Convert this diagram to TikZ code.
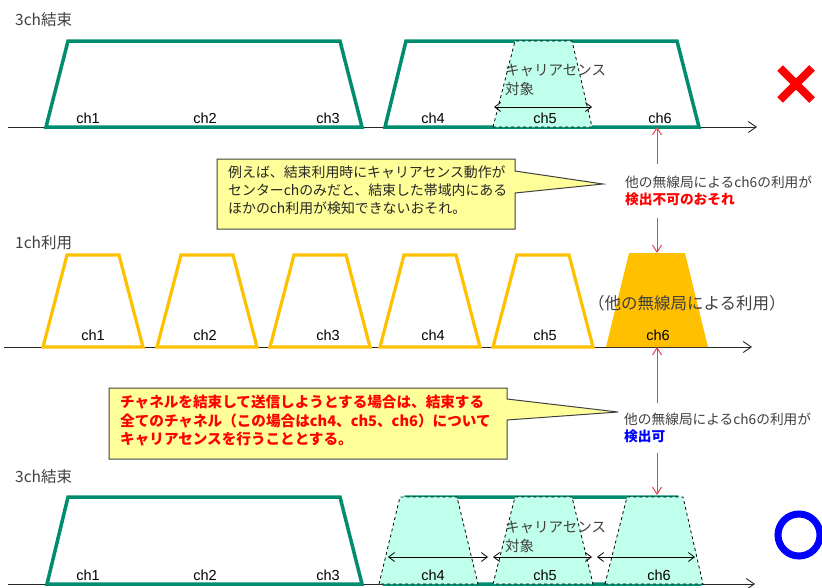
\documentclass[tikz,border=0pt]{standalone}
\usepackage{fontspec}
\setmainfont{Liberation Sans}
\newfontfamily\jp{Noto Sans CJK JP}
\usetikzlibrary{arrows.meta}
\definecolor{bgreen}{RGB}{0,140,110}
\definecolor{borange}{RGB}{255,192,0}
\definecolor{lcyan}{RGB}{192,255,235}
\definecolor{lyellow}{RGB}{255,255,153}
\definecolor{arred}{RGB}{225,70,80}
\definecolor{dgray}{RGB}{64,64,64}
\tikzset{
  axis/.style={draw=black!85, line width=0.9pt, -{Straight Barb[length=8pt,width=11pt]}},
  greentrap/.style={draw=bgreen, line width=3.5pt, line join=miter},
  orangetrap/.style={draw=borange, line width=3.2pt, line join=miter},
  cstrap/.style={draw=black, dashed, fill=lcyan, line width=0.8pt},
  spanarrow/.style={draw=black, line width=0.8pt, {Straight Barb[length=6pt,width=9pt]}-{Straight Barb[length=6pt,width=9pt]}},
  chlab/.style={font=\fontsize{14.5}{14.5}\selectfont, inner sep=0pt},
  grouptitle/.style={font=\jp\fontsize{15.5}{16}\selectfont, text=dgray, anchor=west, inner sep=0pt},
  calloutbox/.style={draw=dgray, fill=lyellow, line width=1pt, line join=miter},
  redarrow/.style={draw=arred, line width=1pt, {Straight Barb[length=7pt,width=9pt]}-{Straight Barb[length=7pt,width=9pt]}},
  notelab/.style={font=\jp\fontsize{13.7}{16.5}\selectfont, align=left, fill=white, anchor=west, inner xsep=1pt, inner ysep=12pt, text=dgray},
  cslab/.style={font=\jp\fontsize{14.5}{19}\selectfont, align=left, anchor=north west, inner sep=0pt, text=dgray},
  xmark/.style={draw=red, line width=8pt},
  omark/.style={draw=blue, line width=7pt}
}
\begin{document}
\begin{tikzpicture}[x=1pt,y=-1pt]
\useasboundingbox (0,0) rectangle (822,587);
% ================= top: 3ch bonding =================
\node[grouptitle] (t1) at (15,20) {3ch結束};
\coordinate (a1s) at (8,127);
\coordinate (a1e) at (757,127);
\draw[axis] (a1s) -- (a1e);
\draw[greentrap] (46,127) -- (68,41) -- (340,41) -- (362,127) -- cycle;
\draw[greentrap] (385,127) -- (406,41) -- (677,41) -- (699,127) -- cycle;
\draw[cstrap] (493,127) -- (515,41) -- (572,41) -- (592,127) -- cycle;
\coordinate (s1a) at (494,107);
\coordinate (s1b) at (592,107);
\draw[spanarrow] (s1a) -- (s1b);
\node[cslab] (cs1) at (505,64) {キャリアセンス\\対象};
\node[chlab] (c11) at (88,118) {ch1};
\node[chlab] (c12) at (205,118) {ch2};
\node[chlab] (c13) at (328,118) {ch3};
\node[chlab] (c14) at (433,118) {ch4};
\node[chlab] (c15) at (545,118) {ch5};
\node[chlab] (c16) at (660,118) {ch6};
\draw[xmark] (780,68) -- (812,100);
\draw[xmark] (780,100) -- (812,68);
% callout 1
\path[calloutbox] (217,159) -- (515,159) -- (515,171) -- (603,184) -- (515,193) -- (515,229) -- (217,229) -- cycle;
\node[font=\jp\fontsize{13.9}{18}\selectfont, align=left, anchor=north west, inner sep=0pt, text=black!85] (call1) at (228,166)
 {例えば、結束利用時にキャリアセンス動作が\\センターchのみだと、結束した帯域内にある\\ほかのch利用が検知できないおそれ。};
% red arrow 1
\coordinate (r1a) at (657,127);
\coordinate (r1b) at (657,253);
\draw[redarrow] (r1a) -- (r1b);
\node[notelab] (n1) at (624,191) {他の無線局によるch6の利用が\\{\bfseries\color{red}検出不可のおそれ}};
% ================= middle: 1ch use =================
\node[grouptitle] (t2) at (15,243) {1ch利用};
\coordinate (a2s) at (4,347);
\coordinate (a2e) at (752,347);
\draw[axis] (a2s) -- (a2e);
\foreach \xx in {43,157,270,380,493}{
  \draw[orangetrap] (\xx,347) -- ({\xx+24},255) -- ({\xx+76},255) -- ({\xx+100},347) -- cycle;
}
\fill[borange] (606,347) -- (629,253) -- (685,253) -- (708,347) -- cycle;
\node[chlab] (c21) at (93,335) {ch1};
\node[chlab] (c22) at (205,335) {ch2};
\node[chlab] (c23) at (328,335) {ch3};
\node[chlab] (c24) at (433,335) {ch4};
\node[chlab] (c25) at (545,335) {ch5};
\node[chlab] (c26) at (658,335) {ch6};
\node[font=\jp\fontsize{16.5}{17}\selectfont, anchor=west, inner sep=0pt, text=dgray] (other) at (588,303) {（他の無線局による利用）};
% callout 2
\path[calloutbox] (109,388) -- (507,388) -- (507,399) -- (618,412) -- (507,420) -- (507,459) -- (109,459) -- cycle;
\node[font=\jp\bfseries\fontsize{14.6}{18.5}\selectfont, align=left, anchor=north west, inner sep=0pt, text=red] (call2) at (120,395)
 {チャネルを結束して送信しようとする場合は、結束する\\全てのチャネル（この場合はch4、ch5、ch6）について\\キャリアセンスを行うこととする。};
% red arrow 2
\coordinate (r2a) at (657,347);
\coordinate (r2b) at (657,495);
\draw[redarrow] (r2a) -- (r2b);
\node[notelab, inner ysep=10pt] (n2) at (623,428) {他の無線局によるch6の利用が\\{\bfseries\color{blue}検出可}};
% ================= bottom: 3ch bonding =================
\node[grouptitle] (t3) at (15,477) {3ch結束};
\coordinate (a3s) at (8,584);
\coordinate (a3e) at (755,584);
\draw[axis] (a3s) -- (a3e);
\draw[greentrap] (47,584) -- (68,497) -- (340,497) -- (362,584) -- cycle;
\draw[greentrap] (385,584) -- (406,497) -- (677,497) -- (699,584) -- cycle;
\draw[cstrap] (379,584) -- (400,497) -- (457,497) -- (478,584) -- cycle;
\draw[cstrap] (493,584) -- (515,497) -- (572,497) -- (593,584) -- cycle;
\draw[cstrap] (605,584) -- (627,497) -- (683,497) -- (703,584) -- cycle;
\coordinate (sa1) at (388,557); \coordinate (sa2) at (488,557);
\coordinate (sb1) at (493,557); \coordinate (sb2) at (592,557);
\coordinate (sc1) at (597,557); \coordinate (sc2) at (695,557);
\draw[spanarrow] (sa1) -- (sa2);
\draw[spanarrow] (sb1) -- (sb2);
\draw[spanarrow] (sc1) -- (sc2);
\node[cslab] (cs2) at (505,521) {キャリアセンス\\対象};
\node[chlab] (c31) at (88,575) {ch1};
\node[chlab] (c32) at (205,575) {ch2};
\node[chlab] (c33) at (328,575) {ch3};
\node[chlab] (c34) at (433,575) {ch4};
\node[chlab] (c35) at (545,575) {ch5};
\node[chlab] (c36) at (659,575) {ch6};
\draw[omark] (799,535) circle (21);
\end{tikzpicture}
\end{document}
